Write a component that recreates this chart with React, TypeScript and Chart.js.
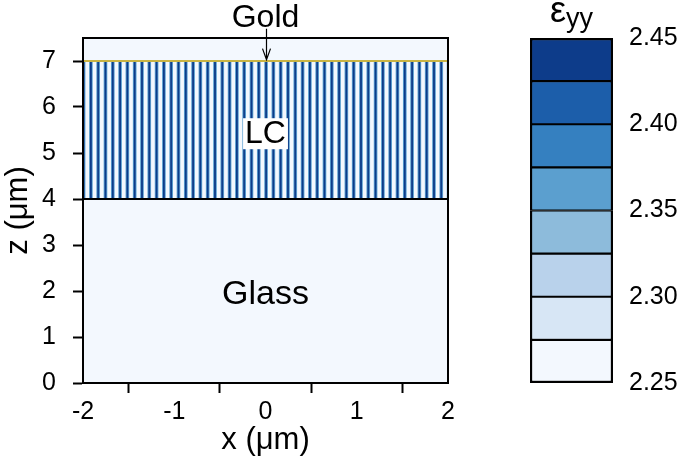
import React, { useEffect, useRef } from "react";
import { Chart, registerables } from "chart.js";

Chart.register(...registerables);

const FONT = "'Liberation Sans', Arial, Helvetica, sans-serif";

// ---- data ----
const xTicks = [-2, -1, 0, 1, 2];
const zTicks = [0, 1, 2, 3, 4, 5, 6, 7];
const xRange = [-2, 2];
const zMax = 7.5;
const glassTop = 4;
const lcTop = 7;
const gratingPeriods = 50;
// eps_yy across one grating period (8 samples)
const lcProfile = [2.44, 2.43, 2.36, 2.27, 2.26, 2.26, 2.27, 2.36];
const glassEps = 2.25;
const coverEps = 2.25;

const cbEdges = [2.25, 2.275, 2.3, 2.325, 2.35, 2.375, 2.4, 2.425, 2.45];
const cbTicks = [2.25, 2.3, 2.35, 2.4, 2.45];
const cbColors = [
  "#f3f8fe",
  "#d7e6f5",
  "#b9d2eb",
  "#8dbbdb",
  "#5b9fcf",
  "#3580c0",
  "#1c5eaa",
  "#0d3c8a",
];

const goldLabel = { x: 0, z: 7.74, text: "Gold" };
const goldArrow = { x: 0, zFrom: 7.7, zTo: 7.03 };
const lcLabel = { x: 0, z: 5.43, text: "LC" };
const glassLabel = { x: 0, z: 1.93, text: "Glass" };

function epsColor(v: number): string {
  let i = Math.floor((v - cbEdges[0]) / (cbEdges[1] - cbEdges[0]) + 1e-9);
  i = Math.max(0, Math.min(cbColors.length - 1, i));
  return cbColors[i];
}

function buildLC() {
  const n = gratingPeriods * lcProfile.length;
  const w = (xRange[1] - xRange[0]) / n;
  const pts: { x: number; y: [number, number] }[] = [];
  const cols: string[] = [];
  for (let p = 0; p < gratingPeriods; p++) {
    for (let k = 0; k < lcProfile.length; k++) {
      const idx = p * lcProfile.length + k;
      pts.push({ x: xRange[0] + (idx + 0.5) * w, y: [glassTop, lcTop] });
      cols.push(epsColor(lcProfile[k]));
    }
  }
  return { pts, cols };
}

const annotationPlugin = {
  id: "annot",
  afterDraw(chart: any) {
    const { ctx, chartArea, scales } = chart;
    const x = scales.x;
    const y = scales.y;
    ctx.save();
    ctx.strokeStyle = "#000";
    ctx.lineWidth = 2;
    ctx.strokeRect(
      chartArea.left,
      chartArea.top,
      chartArea.right - chartArea.left,
      chartArea.bottom - chartArea.top
    );
    ctx.textAlign = "center";
    // Gold
    ctx.font = `32px ${FONT}`;
    ctx.fillStyle = "#000";
    ctx.textBaseline = "alphabetic";
    ctx.fillText(goldLabel.text, x.getPixelForValue(goldLabel.x), y.getPixelForValue(goldLabel.z));
    // arrow
    const ax = Math.round(x.getPixelForValue(goldArrow.x)) + 0.5;
    const ay0 = y.getPixelForValue(goldArrow.zFrom);
    const ay1 = y.getPixelForValue(goldArrow.zTo);
    ctx.lineWidth = 1.2;
    ctx.beginPath();
    ctx.moveTo(ax, ay0);
    ctx.lineTo(ax, ay1);
    ctx.moveTo(ax - 4, ay1 - 11);
    ctx.lineTo(ax, ay1);
    ctx.lineTo(ax + 4, ay1 - 11);
    ctx.stroke();
    // LC with white box
    ctx.font = `32px ${FONT}`;
    ctx.textBaseline = "middle";
    const lx = x.getPixelForValue(lcLabel.x);
    const ly = y.getPixelForValue(lcLabel.z);
    const tw = ctx.measureText(lcLabel.text).width;
    ctx.fillStyle = "#fff";
    ctx.fillRect(lx - tw / 2 - 2, ly - 15, tw + 4, 31);
    ctx.fillStyle = "#000";
    ctx.fillText(lcLabel.text, lx, ly + 1);
    // Glass
    ctx.font = `34px ${FONT}`;
    ctx.fillText(glassLabel.text, x.getPixelForValue(glassLabel.x), y.getPixelForValue(glassLabel.z));
    ctx.restore();
  },
};

const cbTitlePlugin = {
  id: "cbTitle",
  afterDraw(chart: any) {
    const { ctx, chartArea } = chart;
    const cx = (chartArea.left + chartArea.right) / 2;
    ctx.save();
    ctx.fillStyle = "#000";
    ctx.textBaseline = "alphabetic";
    ctx.textAlign = "left";
    ctx.font = `36px ${FONT}`;
    const e = "ε";
    const ew = ctx.measureText(e).width;
    ctx.font = `27px ${FONT}`;
    const sw = ctx.measureText("yy").width;
    const start = cx - (ew + sw) / 2;
    ctx.font = `36px ${FONT}`;
    ctx.fillText(e, start, 22);
    ctx.font = `27px ${FONT}`;
    ctx.fillText("yy", start + ew, 27);
    ctx.restore();
  },
};

export default function App() {
  const mainRef = useRef<HTMLCanvasElement>(null);
  const cbRef = useRef<HTMLCanvasElement>(null);

  useEffect(() => {
    document.body.style.margin = "0";
    Chart.defaults.font.family = FONT;
    Chart.defaults.color = "#000";
    const lc = buildLC();

    const main = new Chart(mainRef.current as HTMLCanvasElement, {
      type: "line",
      data: {
        datasets: [
          {
            type: "line",
            data: [
              { x: xRange[0], y: lcTop },
              { x: xRange[1], y: lcTop },
            ],
            borderColor: "#c9b445",
            borderWidth: 2,
            pointRadius: 0,
            fill: false,
            order: 0,
          },
          {
            type: "line",
            data: [
              { x: xRange[0], y: glassTop },
              { x: xRange[1], y: glassTop },
            ],
            borderColor: "#000",
            borderWidth: 2,
            backgroundColor: epsColor(glassEps),
            pointRadius: 0,
            fill: "origin",
            order: 1,
          },
          {
            type: "bar",
            data: lc.pts as any,
            backgroundColor: lc.cols,
            borderWidth: 0,
            barPercentage: 1,
            categoryPercentage: 1,
            order: 2,
          },
          {
            type: "line",
            data: [
              { x: xRange[0], y: zMax },
              { x: xRange[1], y: zMax },
            ],
            borderWidth: 0,
            backgroundColor: epsColor(coverEps),
            pointRadius: 0,
            fill: { value: lcTop },
            order: 3,
          },
        ] as any,
      },
      options: {
        responsive: false,
        animation: false,
        layout: { padding: { top: 38, right: 52, left: 0, bottom: 0 } },
        plugins: { legend: { display: false }, tooltip: { enabled: false } },
        scales: {
          x: {
            type: "linear",
            min: xRange[0],
            max: xRange[1],
            offset: false,
            afterBuildTicks: (s: any) => {
              s.ticks = xTicks.map((v) => ({ value: v }));
            },
            afterFit: (s: any) => {
              s.height = 77;
            },
            ticks: { font: { size: 25 }, padding: 4, color: "#000", maxRotation: 0 },
            grid: {
              display: true,
              drawOnChartArea: false,
              drawTicks: true,
              tickLength: 10,
              tickWidth: 2,
              tickColor: "#000",
              color: "#000",
            },
            border: { display: true, color: "#000", width: 2 },
            title: {
              display: true,
              text: "x (μm)",
              font: { size: 31 },
              color: "#000",
              padding: { top: 0, bottom: 1 },
            },
          },
          y: {
            type: "linear",
            min: 0,
            max: zMax,
            afterBuildTicks: (s: any) => {
              s.ticks = zTicks.map((v) => ({ value: v }));
            },
            afterFit: (s: any) => {
              s.width = 83;
            },
            ticks: { font: { size: 25 }, padding: 17, color: "#000" },
            grid: {
              display: true,
              drawOnChartArea: false,
              drawTicks: true,
              tickLength: 10,
              tickWidth: 2,
              tickColor: "#000",
              color: "#000",
            },
            border: { display: true, color: "#000", width: 2 },
            title: {
              display: true,
              text: "z (μm)",
              font: { size: 31 },
              color: "#000",
              padding: { top: 0, bottom: 0 },
            },
          },
        },
      } as any,
      plugins: [annotationPlugin],
    });

    const cb = new Chart(cbRef.current as HTMLCanvasElement, {
      type: "bar",
      data: {
        labels: ["ε"],
        datasets: cbColors.map((c, i) => ({
          data: [[cbEdges[i], cbEdges[i + 1]]],
          backgroundColor: c,
          borderColor: "#000",
          borderWidth: {
            left: 2.5,
            right: 2.5,
            top: i === cbColors.length - 1 ? 2.5 : 1.4,
            bottom: i === 0 ? 2.5 : 1.4,
          },
          borderSkipped: false,
          barPercentage: 1,
          categoryPercentage: 1,
          grouped: false,
        })) as any,
      },
      options: {
        responsive: false,
        animation: false,
        layout: { padding: { top: 38, bottom: 77, left: 30, right: 0 } },
        plugins: { legend: { display: false }, tooltip: { enabled: false } },
        scales: {
          x: { display: false },
          y: {
            position: "right",
            min: cbEdges[0],
            max: cbEdges[cbEdges.length - 1],
            afterBuildTicks: (s: any) => {
              s.ticks = cbTicks.map((v) => ({ value: v }));
            },
            afterFit: (s: any) => {
              s.width = 72;
            },
            ticks: {
              font: { size: 25 },
              padding: 16,
              color: "#000",
              callback: (v: any) => Number(v).toFixed(2),
            },
            grid: { display: false, drawTicks: false },
            border: { display: false },
          },
        },
      } as any,
      plugins: [cbTitlePlugin],
    });

    return () => {
      main.destroy();
      cb.destroy();
    };
  }, []);

  return (
    <div style={{ position: "relative", width: 685, height: 460, background: "#fff" }}>
      <canvas
        ref={mainRef}
        width={500}
        height={460}
        style={{ position: "absolute", left: 0, top: 0, width: 500, height: 460 }}
      />
      <canvas
        ref={cbRef}
        width={185}
        height={460}
        style={{ position: "absolute", left: 500, top: 0, width: 185, height: 460 }}
      />
    </div>
  );
}
